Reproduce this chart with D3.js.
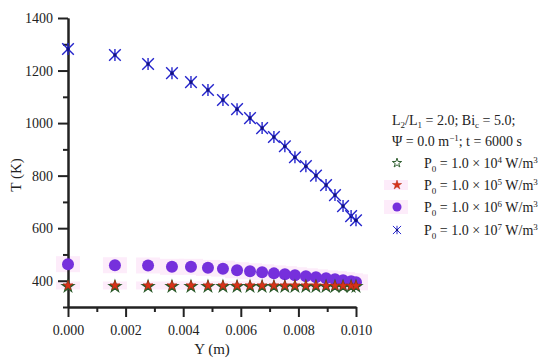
<!DOCTYPE html>
<html><head><meta charset="utf-8">
<script src="https://cdn.jsdelivr.net/npm/d3@7"></script>
<style>body{margin:0;background:#fff}svg{display:block}svg text{font-family:"Liberation Serif","Times New Roman",serif !important;fill:#222}</style>
</head><body><svg id="c" width="550" height="363"></svg>
<script>
// Data
const yPositions = [0, 0.00163, 0.00278, 0.00361, 0.00427, 0.00486, 0.00538, 0.00587, 0.00632, 0.00674,
  0.00715, 0.00753, 0.00788, 0.00826, 0.00861, 0.00896, 0.00927, 0.00955, 0.00983, 0.0100];
const T_P1e4 = [378,378,378,378,378,378,378,378,378,378,378,378,378,378,378,378,378,378,378,378];
const T_P1e5 = [382,382,382,382,382,382,382,382,382,382,382,382,382,382,382,381,381,381,381,381];
const T_P1e6 = [463,459,458,453,453,449,446,440,436,432,428,425,421,417,413,409,406,402,398,394];
const T_P1e7 = [1282,1259,1225,1190,1156,1126,1088,1053,1019,981,947,912,870,836,800,764,726,684,646,630];
const xTicks = [0, 0.002, 0.004, 0.006, 0.008, 0.010];
const yTicks = [400, 600, 800, 1000, 1200, 1400];
const legendExp = ["4", "5", "6", "7"];

const svg = d3.select("#c");
const x = d3.scaleLinear().domain([0, 0.010]).range([68, 356]);
const y = d3.scaleLinear().domain([300, 1400]).range([307, 18]);
const pink = "#fdecfa";
const FONT = "Liberation Serif";

// pink halos
const halo = svg.append("g");
yPositions.forEach((v, i) => {
  halo.append("rect").attr("x", x(v) - 12).attr("y", y(T_P1e6[i]) - 8).attr("width", 24).attr("height", 16).attr("fill", pink);
  halo.append("rect").attr("x", x(v) - 12).attr("y", y(T_P1e5[i]) - 4).attr("width", 24).attr("height", 8).attr("fill", pink);
});

// axes
const xAxis = d3.axisBottom(x).tickValues(xTicks).tickFormat(d3.format(".3f")).tickSize(10).tickSizeOuter(0);
const xMinor = d3.axisBottom(x).tickValues(d3.range(0.001, 0.010, 0.002)).tickFormat("").tickSize(5).tickSizeOuter(0);
const yAxis = d3.axisLeft(y).tickValues(yTicks).tickFormat(d3.format("d")).tickSize(10).tickSizeOuter(0);
const yMinor = d3.axisLeft(y).tickValues([300, 500, 700, 900, 1100, 1300]).tickFormat("").tickSize(5).tickSizeOuter(0);

function style(g){
  g.attr("font-family", FONT);
  g.selectAll("path,line").attr("stroke", "#222").attr("stroke-width", 2);
  g.selectAll("text").attr("font-size", 14).style("font-family", FONT).attr("fill", "#222");
}
svg.append("g").attr("transform", "translate(0,307)").call(xMinor).call(style);
svg.append("g").attr("transform", "translate(0,307)").call(xAxis).call(style).selectAll("text").attr("dy", "1.05em");
svg.append("g").attr("transform", "translate(68,0)").call(yMinor).call(style);
svg.append("g").attr("transform", "translate(68,0)").call(yAxis).call(style).selectAll("text").attr("dx", "-0.15em");

svg.append("text").attr("x", 212).attr("y", 354).attr("text-anchor", "middle").attr("font-size", 15).style("font-family", FONT).text("Y (m)");
svg.append("text").attr("transform", "translate(21,175) rotate(-90)").attr("text-anchor", "middle").attr("font-size", 15).style("font-family", FONT).text("T (K)");

// markers
const starPath = d3.symbol().type(d3.symbolStar).size(42)();
const cross = d3.symbol().type(d3.symbolTimes).size(90)();

function drawRed(g, cx, cy, s){ g.append("path").attr("d", starPath).attr("transform", `translate(${cx},${cy}) scale(${s})`).attr("fill", "#d8321a").attr("stroke", "#b02a10").attr("stroke-width", 0.6); }
function drawGreen(g, cx, cy, s, fill){ g.append("path").attr("d", starPath).attr("transform", `translate(${cx},${cy}) scale(${s})`).attr("fill", fill).attr("stroke", "#2a5a2a").attr("stroke-width", 1.2); }
function drawPurple(g, cx, cy, r){ g.append("circle").attr("cx", cx).attr("cy", cy).attr("r", r).attr("fill", "#7630dc"); }
function drawBlue(g, cx, cy, s){
  g.append("path").attr("d", cross).attr("transform", `translate(${cx},${cy}) scale(${s})`).attr("fill", "none").attr("stroke", "#2424cc").attr("stroke-width", 1.4);
  g.append("path").attr("d", "M0,-6V6").attr("transform", `translate(${cx},${cy}) scale(${s})`).attr("stroke", "#2424cc").attr("stroke-width", 1.4);
  g.append("circle").attr("cx", cx).attr("cy", cy).attr("r", 1.8*s).attr("fill", "#101080");
}

const m = svg.append("g");
yPositions.forEach((v, i) => drawPurple(m, x(v), y(T_P1e6[i]), 6));
yPositions.forEach((v, i) => drawGreen(m, x(v), y(T_P1e4[i]), 1, "#55602a"));
yPositions.forEach((v, i) => drawRed(m, x(v), y(T_P1e5[i]), 0.85));
yPositions.forEach((v, i) => drawBlue(m, x(v), y(T_P1e7[i]), 1));

// legend
const lg = svg.append("g").style("font-family", FONT);
const h1 = lg.append("text").attr("x", 392).attr("y", 125).attr("font-size", 14);
h1.append("tspan").text("L");
h1.append("tspan").attr("font-size", 9).attr("dy", 3).text("2");
h1.append("tspan").attr("dy", -3).text("/L");
h1.append("tspan").attr("font-size", 9).attr("dy", 3).text("1");
h1.append("tspan").attr("dy", -3).text(" = 2.0; Bi");
h1.append("tspan").attr("font-size", 9).attr("dy", 3).text("c");
h1.append("tspan").attr("dy", -3).text(" = 5.0;");
const h2 = lg.append("text").attr("x", 392).attr("y", 146).attr("font-size", 14);
h2.append("tspan").text("Ψ = 0.0 m");
h2.append("tspan").attr("font-size", 9).attr("dy", -5).text("−1");
h2.append("tspan").attr("dy", 5).text("; t = 6000 s");

const rowY = [163, 185, 207, 230];
lg.append("rect").attr("x", 384).attr("y", 180).attr("width", 24).attr("height", 10).attr("fill", pink);
lg.append("rect").attr("x", 384).attr("y", 200).attr("width", 24).attr("height", 14).attr("fill", pink);
drawGreen(lg, 397, rowY[0], 0.8, "none");
drawRed(lg, 397, rowY[1], 0.8);
drawPurple(lg, 397, rowY[2], 4.5);
drawBlue(lg, 397, rowY[3], 0.7);
legendExp.forEach((e, i) => {
  const t = lg.append("text").attr("x", 424).attr("y", rowY[i] + 5).attr("font-size", 14);
  t.append("tspan").text("P");
  t.append("tspan").attr("font-size", 9).attr("dy", 4).text("0");
  t.append("tspan").attr("dy", -4).text(" = 1.0 × 10");
  t.append("tspan").attr("font-size", 9).attr("dy", -5).text(e);
  t.append("tspan").attr("dy", 5).text(" W/m");
  t.append("tspan").attr("font-size", 9).attr("dy", -5).text("3");
});
</script></body></html>
